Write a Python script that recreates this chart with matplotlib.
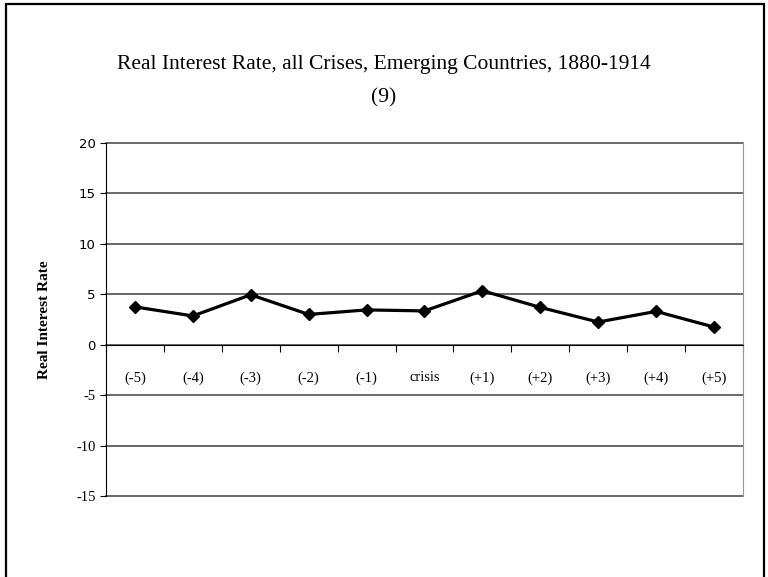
import matplotlib.pyplot as plt
from matplotlib.patches import Rectangle

plt.rcParams['axes.unicode_minus'] = False

labels = ['(-5)', '(-4)', '(-3)', '(-2)', '(-1)', 'crisis', '(+1)', '(+2)', '(+3)', '(+4)', '(+5)']
rate = [3.75, 2.85, 4.95, 3.0, 3.45, 3.35, 5.35, 3.7, 2.25, 3.3, 1.75]
yticks = [-15, -10, -5, 0, 5, 10, 15, 20]

fig = plt.figure(figsize=(7.68, 5.77), dpi=100)
ax = fig.add_axes([0.138, 0.1404, 0.8294, 0.6118])

x = list(range(len(labels)))
ax.plot(x, rate, color='black', lw=2.3, marker='D', ms=6.5, zorder=3)

ax.set_xlim(-0.5, len(labels) - 0.5)
ax.set_ylim(-15, 20)
ax.set_yticks(yticks)
ax.yaxis.grid(True, color='#404040', lw=1.1)
for g in ax.yaxis.get_gridlines():
    g.set_clip_on(False)
ax.set_axisbelow(True)

# x axis sits on zero, boundary ticks down, labels centred below
ax.spines['bottom'].set_position(('data', 0))
ax.spines['bottom'].set_color('black')
ax.spines['top'].set_visible(False)
ax.spines['right'].set_color('#999999')
ax.spines['left'].set_color('black')
ax.set_xticks([i - 0.5 for i in range(len(labels) + 1)])
ax.set_xticklabels([])
ax.tick_params(axis='x', which='major', length=5, direction='out', color='black')
ax.set_xticks(x, minor=True)
ax.set_xticklabels(labels, minor=True, fontfamily='Liberation Serif', fontsize=10.5)
ax.tick_params(axis='x', which='minor', length=0, pad=19)
ax.tick_params(axis='y', length=4, color='black')

for t, v in zip(ax.get_yticklabels(), yticks):
    t.set_fontfamily('DejaVu Sans' if v >= 0 else 'Liberation Serif')
    t.set_fontsize(9.5 if v >= 0 else 10.5)

ax.set_ylabel('Real Interest Rate', fontfamily='Liberation Serif', fontweight='bold', fontsize=11, labelpad=18)

fig.text(0.5, 0.889, 'Real Interest Rate, all Crises, Emerging Countries, 1880-1914',
         ha='center', va='center', fontfamily='Liberation Serif', fontsize=15.5)
fig.text(0.5, 0.830, '(9)', ha='center', va='center', fontfamily='Liberation Serif', fontsize=15.5)

# outer chart frame
fig.patches.append(Rectangle((6 / 768, -0.05), 758 / 768, 1.05 - 4 / 577, transform=fig.transFigure,
                             fill=False, ec='black', lw=1.6))

fig.savefig('out.png', dpi=100)
